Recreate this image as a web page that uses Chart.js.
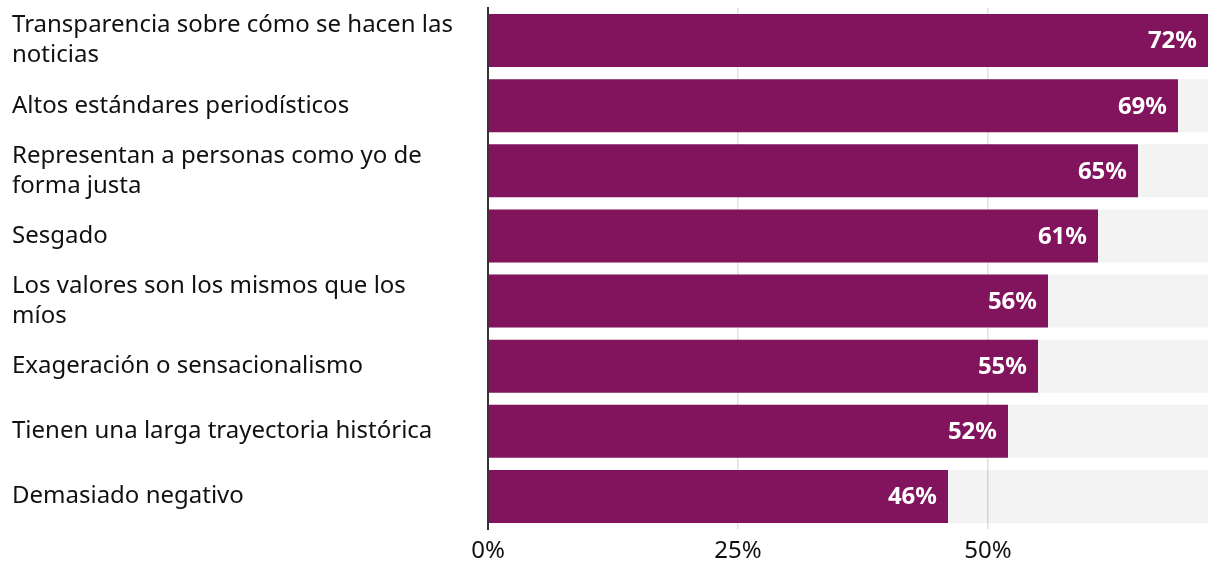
<!DOCTYPE html>
<html>
<head>
<meta charset="utf-8">
<script src="https://cdn.jsdelivr.net/npm/chart.js@4/dist/chart.umd.min.js"></script>
<style>
  html, body { margin: 0; padding: 0; background: #fff; }
  #wrap { width: 1220px; height: 576px; }
</style>
</head>
<body>
<div id="wrap"><canvas id="myChart"></canvas></div>
<script>
// Data
const categories = [
    ["Transparencia sobre cómo se hacen las", "noticias"],
    "Altos estándares periodísticos",
    ["Representan a personas como yo de", "forma justa"],
    "Sesgado",
    ["Los valores son los mismos que los", "míos"],
    "Exageración o sensacionalismo",
    "Tienen una larga trayectoria histórica",
    "Demasiado negativo"
];
const values = [72, 69, 65, 61, 56, 55, 52, 46];
const axisMax = 72;
const tickValues = [0, 25, 50];
const backgroundValues = categories.map(() => axisMax);

const fontFamily = "'Noto Sans', 'Open Sans', sans-serif";

// white value labels at the end of each bar
const valueLabels = {
    id: "valueLabels",
    afterDatasetsDraw(chart) {
        const ctx = chart.ctx;
        const meta = chart.getDatasetMeta(0);
        ctx.save();
        ctx.fillStyle = "#ffffff";
        ctx.font = "bold 24px " + fontFamily;
        ctx.textAlign = "right";
        ctx.textBaseline = "middle";
        meta.data.forEach((bar, i) => {
            ctx.fillText(values[i] + "%", bar.x - 11, bar.y + 1);
        });
        ctx.restore();
    }
};

const ctx = document.getElementById("myChart").getContext("2d");
new Chart(ctx, {
    type: "bar",
    data: {
        labels: categories,
        datasets: [
            {
                data: values,
                backgroundColor: "#82145e",
                order: 0
            },
            {
                data: backgroundValues,
                backgroundColor: "rgba(0,0,0,0.048)",
                order: 1
            }
        ]
    },
    options: {
        indexAxis: "y",
        responsive: true,
        maintainAspectRatio: false,
        animation: false,
        events: [],
        grouped: false,
        categoryPercentage: 1,
        barPercentage: 0.815,
        layout: { padding: { left: 12, right: 12, top: 8, bottom: 0 } },
        plugins: {
            legend: { display: false },
            tooltip: { enabled: false }
        },
        scales: {
            x: {
                min: 0,
                max: axisMax,
                afterBuildTicks: (scale) => {
                    scale.ticks = tickValues.map(v => ({ value: v }));
                },
                afterFit: (scale) => { scale.height = 47; },
                ticks: {
                    callback: (v) => v + "%",
                    color: "#111111",
                    font: { family: fontFamily, size: 24 },
                    padding: 8,
                    maxRotation: 0
                },
                grid: {
                    color: "#e0e0e0",
                    lineWidth: 1.5,
                    drawTicks: false
                },
                border: { display: false }
            },
            y: {
                afterFit: (scale) => {
                    scale.width = 476;
                    scale.paddingTop = 0;
                    scale.paddingBottom = 0;
                },
                ticks: {
                    crossAlign: "far",
                    color: "#111111",
                    font: { family: fontFamily, size: 24, lineHeight: 1.25 },
                    autoSkip: false
                },
                grid: { display: false, drawTicks: false },
                border: { display: true, color: "#333333", width: 2 }
            }
        }
    },
    plugins: [valueLabels]
});
</script>
</body>
</html>
